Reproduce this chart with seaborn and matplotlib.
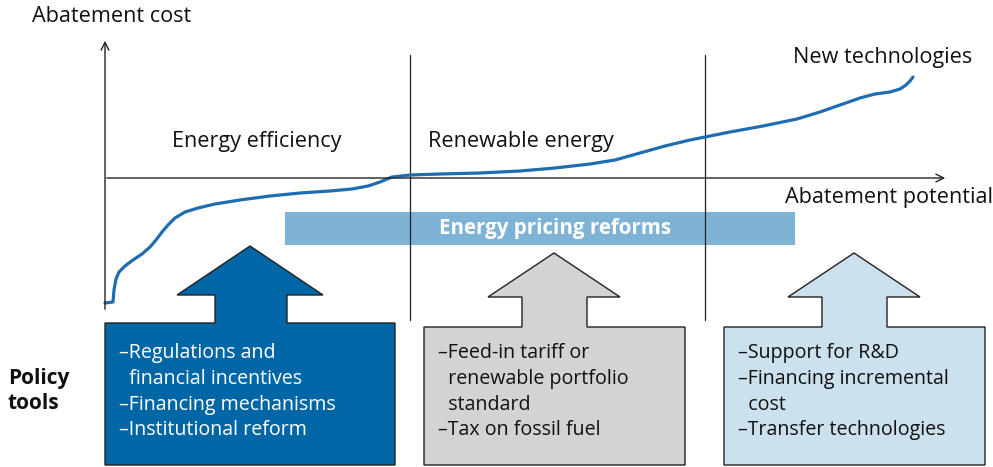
import numpy as np
import pandas as pd
import matplotlib
matplotlib.use("Agg")
import matplotlib.pyplot as plt
import seaborn as sns
from matplotlib.patches import Polygon, Rectangle

sns.set_style("white")
plt.rcParams["font.family"] = ["Open Sans", "DejaVu Sans"]

# Cost curve (pixel-like coords, y grows downwards)
curve_x = [105, 113, 114, 116, 119, 125, 133, 142, 150, 156, 162, 168, 175, 185, 198,
           215, 240, 270, 300, 330, 352, 368, 380, 392, 410, 440, 480, 520, 555,
           590, 615, 640, 665, 690, 705, 730, 763, 797, 820, 840, 860, 875, 890,
           900, 906, 910, 913]
curve_y = [303, 302, 290, 279, 272, 266, 260, 254, 247, 240, 232, 225, 218, 212, 208,
           204, 200, 196, 193, 191, 189, 186, 182, 177, 175, 174, 173, 171, 168,
           164, 160, 153, 146, 140, 137, 132, 126, 119, 112, 105, 98, 94, 92,
           89, 85, 81, 77]

region_labels = ["Energy efficiency", "Renewable energy", "New technologies"]
region_dividers = [410, 705]

tool_titles = ["Policy\ntools"]
tools = [
    ["–Regulations and", "  financial incentives", "–Financing mechanisms", "–Institutional reform"],
    ["–Feed-in tariff or", "  renewable portfolio", "  standard", "–Tax on fossil fuel"],
    ["–Support for R&D", "–Financing incremental", "  cost", "–Transfer technologies"],
]
tool_colors = ["#0066a6", "#d3d3d3", "#cce1ee"]
tool_text_colors = ["white", "#111111", "#111111"]
pricing_label = "Energy pricing reforms"

fig = plt.figure(figsize=(9.93, 4.67), dpi=100)
ax = fig.add_axes([0, 0, 1, 1])
ax.set_xlim(0, 993)
ax.set_ylim(467, 0)
ax.axis("off")

# axes of the diagram
ax.annotate("", xy=(105, 38), xytext=(105, 312),
            arrowprops=dict(arrowstyle="->", color="#222222", lw=1.0, mutation_scale=14))
ax.annotate("", xy=(948, 178), xytext=(104, 178),
            arrowprops=dict(arrowstyle="->", color="#222222", lw=1.0, mutation_scale=14))
for xd in region_dividers:
    ax.plot([xd, xd], [55, 320], color="#222222", lw=0.9)

df = pd.DataFrame({"x": curve_x, "y": curve_y})
sns.lineplot(data=df, x="x", y="y", ax=ax, color="#1f6db1", lw=2.3, sort=False)
ax.set_xlabel("")
ax.set_ylabel("")

# pricing bar
ax.add_patch(Rectangle((285, 212), 510, 33, color="#7fb3d5", lw=0))
ax.text(555, 228.5, pricing_label, color="white", fontsize=14.8, fontweight="bold",
        ha="center", va="center")

# arrows with boxes
boxes = [
    dict(x0=105, x1=395, top=323, s0=215, s1=287, h0=177, h1=323, base=295, tip=246),
    dict(x0=424, x1=685, top=327, s0=522, s1=587, h0=488, h1=620, base=297, tip=253),
    dict(x0=724, x1=985, top=327, s0=822, s1=887, h0=788, h1=920, base=297, tip=253),
]
bottom = 465
for b, lines, fc, tc in zip(boxes, tools, tool_colors, tool_text_colors):
    pts = [(b["x0"], bottom), (b["x0"], b["top"]), (b["s0"], b["top"]), (b["s0"], b["base"]),
           (b["h0"], b["base"]), ((b["h0"] + b["h1"]) / 2, b["tip"]), (b["h1"], b["base"]),
           (b["s1"], b["base"]), (b["s1"], b["top"]), (b["x1"], b["top"]), (b["x1"], bottom)]
    ax.add_patch(Polygon(pts, closed=True, facecolor=fc, edgecolor="#222222", lw=1.0))
    for i, line in enumerate(lines):
        ax.text(b["x0"] + 14, 353 + i * 25.8, line, color=tc, fontsize=14.1,
                ha="left", va="center")

# labels
fs = 15.6
ax.text(32, 17, "Abatement cost", fontsize=fs, ha="left", va="center", color="#111111")
ax.text(785, 197, "Abatement potential", fontsize=fs, ha="left", va="center", color="#111111")
ax.text(172, 142, region_labels[0], fontsize=fs, ha="left", va="center", color="#111111")
ax.text(428, 142, region_labels[1], fontsize=fs, ha="left", va="center", color="#111111")
ax.text(793, 58, region_labels[2], fontsize=fs, ha="left", va="center", color="#111111")
ax.text(8, 391, tool_titles[0], fontsize=15, fontweight="bold", ha="left", va="center",
        linespacing=1.25, color="#111111")

fig.savefig("out.png", dpi=100)
